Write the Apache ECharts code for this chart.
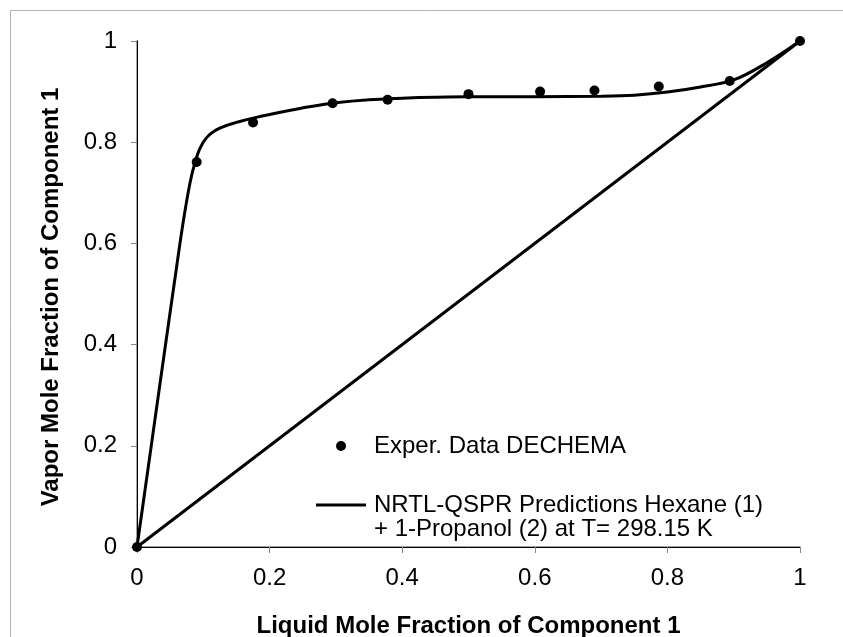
<!DOCTYPE html>
<html><head><meta charset="utf-8">
<script src="https://cdn.jsdelivr.net/npm/echarts@6/dist/echarts.min.js"></script>
<style>html,body{margin:0;padding:0;background:#fff}#c{width:843px;height:637px}</style>
</head><body><div id="c"></div>
<script>
// Experimental data (DECHEMA)
const expX = [0, 0.090, 0.175, 0.295, 0.378, 0.500, 0.608, 0.690, 0.787, 0.894, 1];
const expY = [0, 0.761, 0.839, 0.877, 0.884, 0.895, 0.900, 0.902, 0.910, 0.921, 1];
// NRTL-QSPR prediction curve
const nrtlX = [0, 0.02, 0.04, 0.06, 0.07, 0.08, 0.0875, 0.095, 0.105, 0.118, 0.135, 0.155, 0.18, 0.22, 0.26, 0.3, 0.35, 0.4, 0.45, 0.5, 0.6, 0.7, 0.75, 0.8, 0.85, 0.9, 0.95, 1];
const nrtlY = [0, 0.186, 0.372, 0.556, 0.645, 0.720, 0.760, 0.788, 0.809, 0.823, 0.833, 0.841, 0.849, 0.860, 0.870, 0.878, 0.884, 0.887, 0.889, 0.890, 0.890, 0.891, 0.893, 0.899, 0.909, 0.923, 0.957, 1];
// y = x reference line
const diagX = [0, 1];
const diagY = [0, 1];
const xTicks = [0, 0.2, 0.4, 0.6, 0.8, 1];
const yTicks = [0, 0.2, 0.4, 0.6, 0.8, 1];
const expName = 'Exper. Data DECHEMA';
const nrtlName = 'NRTL-QSPR Predictions Hexane (1)\n+ 1-Propanol (2) at T= 298.15 K';
const xTitle = 'Liquid Mole Fraction of Component 1';
const yTitle = 'Vapor Mole Fraction of Component 1';

const FF = '"Liberation Sans", Arial, sans-serif';
const zip = (a, b) => a.map((v, i) => [v, b[i]]);
const chart = echarts.init(document.getElementById('c'), null, {renderer: 'canvas'});
const axisGray = '#868686';
const legendText = {fontFamily: FF, fontSize: 24, lineHeight: 24, color: '#000'};
chart.setOption({
  animation: false,
  backgroundColor: '#fff',
  textStyle: {fontFamily: FF},
  graphic: [{type: 'rect', left: 8, top: 8, shape: {x: 0.5, y: 0.5, width: 1000, height: 1000}, style: {fill: 'none', stroke: '#b4b4b4', lineWidth: 1}, z: -1, silent: true}],
  grid: {left: 137, right: 43, top: 41, bottom: 90, containLabel: false, outerBoundsMode: 'none'},
  xAxis: [{
    type: 'value', min: 0, max: 1, interval: 0.2,
    name: xTitle, nameLocation: 'middle', nameGap: 67,
    nameTextStyle: {fontFamily: FF, fontSize: 24, fontWeight: 'bold', color: '#000'},
    axisLine: {show: true, lineStyle: {color: axisGray, width: 1.5}},
    axisTick: {show: true, inside: false, length: 6, lineStyle: {color: axisGray, width: 1}},
    axisLabel: {fontFamily: FF, fontSize: 24, color: '#000', margin: 19, formatter: v => String(+v.toFixed(2))},
    splitLine: {show: false}
  }, {
    type: 'value', min: 0, max: 1, position: 'top',
    axisLine: {show: true, lineStyle: {color: '#000', width: 1}},
    axisTick: {show: false}, axisLabel: {show: false}, splitLine: {show: false}
  }],
  yAxis: [{
    type: 'value', min: 0, max: 1, interval: 0.2,
    name: yTitle, nameLocation: 'middle', nameGap: 74, nameRotate: 90,
    nameTextStyle: {fontFamily: FF, fontSize: 24, fontWeight: 'bold', color: '#000', padding: [0, 6, 0, 0]},
    axisLine: {show: true, lineStyle: {color: axisGray, width: 1.5}},
    axisTick: {show: true, inside: false, length: 6, lineStyle: {color: axisGray, width: 1}},
    axisLabel: {fontFamily: FF, fontSize: 24, color: '#000', margin: 20, padding: [5, 0, 0, 0], formatter: v => String(+v.toFixed(2))},
    splitLine: {show: false}
  }, {
    type: 'value', min: 0, max: 1, position: 'right',
    axisLine: {show: true, lineStyle: {color: '#000', width: 1}},
    axisTick: {show: false}, axisLabel: {show: false}, splitLine: {show: false}
  }],
  legend: [{
    data: [expName], left: 336, top: 434, orient: 'vertical', padding: 0,
    itemWidth: 50, itemHeight: 10, selectedMode: false,
    textStyle: Object.assign({}, legendText, {padding: [0, 0, 0, 3]})
  }, {
    data: [{name: nrtlName, icon: 'rect'}], left: 316, top: 469, orient: 'vertical', padding: 0,
    itemWidth: 50, itemHeight: 3, selectedMode: false,
    itemStyle: {color: '#000', borderWidth: 0},
    formatter: n => '\n' + n,
    textStyle: Object.assign({}, legendText, {padding: [0, 0, 0, 3]})
  }],
  series: [{
    name: 'y=x', type: 'line', data: zip(diagX, diagY), symbol: 'none',
    lineStyle: {color: '#000', width: 3}, silent: true, z: 2
  }, {
    name: nrtlName, type: 'line', data: zip(nrtlX, nrtlY), symbol: 'none',
    smooth: 0.35,
    itemStyle: {color: '#000'},
    lineStyle: {color: '#000', width: 3}, z: 3
  }, {
    name: expName, type: 'scatter', data: zip(expX, expY), symbol: 'circle', symbolSize: 10,
    itemStyle: {color: '#000', opacity: 1}, z: 4
  }]
});
</script></body></html>
